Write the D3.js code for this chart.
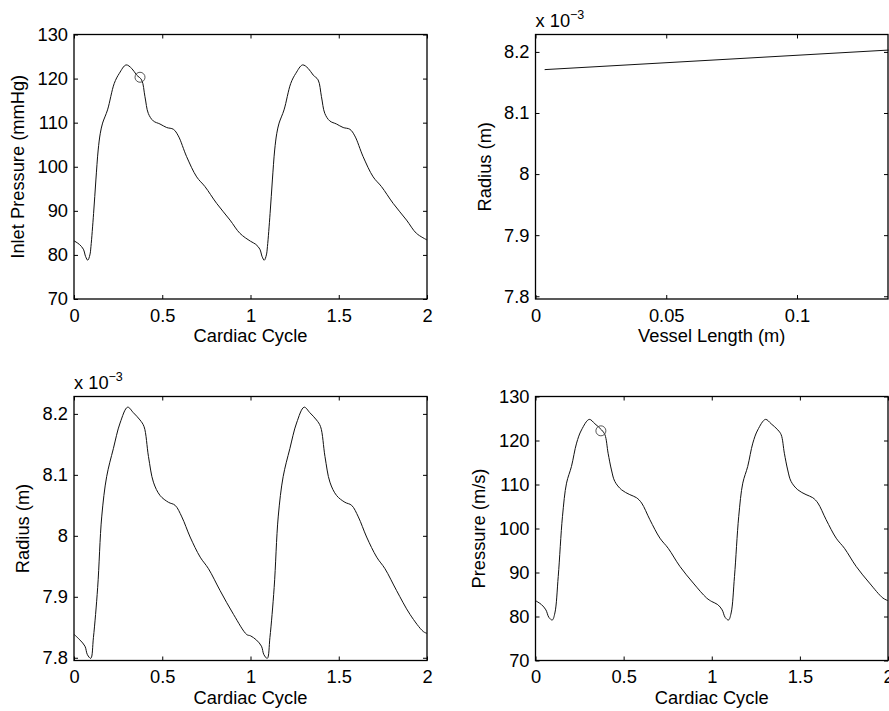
<!DOCTYPE html>
<html>
<head>
<meta charset="utf-8">
<style>
  body { margin: 0; background: #fff; }
  svg { display: block; font-family: 'Liberation Sans', Arial, Helvetica, sans-serif; }
  .box { fill: none; stroke: #000; stroke-width: 1.3; }
  .tick line { stroke: #000; stroke-width: 1; }
  .tick text { fill: #000; }
  .curve { fill: none; stroke: #111; stroke-width: 1; }
  .marker { fill: none; stroke: #444; stroke-width: 0.9; }
</style>
</head>
<body>
<script src="https://cdn.jsdelivr.net/npm/d3@7"></script>
<script>
;(function() {
  'use strict';

  /* ------- DATA ------- */

  // top left: inlet pressure over two cardiac cycles
  var inletTime = [
    0.000, 0.030, 0.053, 0.066, 0.078, 0.090, 0.096, 0.111, 0.124, 0.137, 0.149, 0.162,
    0.190, 0.228, 0.257, 0.295, 0.327, 0.355, 0.383, 0.402, 0.421, 0.449, 0.487, 0.525,
    0.563, 0.591, 0.638, 0.695, 0.742, 0.808, 0.884, 0.940,
    1.000, 1.030, 1.053, 1.066, 1.078, 1.090, 1.096, 1.111, 1.124, 1.137, 1.149, 1.162,
    1.190, 1.228, 1.257, 1.295, 1.327, 1.355, 1.383, 1.402, 1.421, 1.449, 1.487, 1.525,
    1.563, 1.591, 1.638, 1.695, 1.742, 1.808, 1.884, 1.940, 2.000
  ];
  var inletPressure = [
    83.2, 82.4, 81.3, 79.6, 78.8, 80.0, 81.9, 89.4, 97.0, 103.8, 107.6, 109.9,
    112.9, 118.9, 121.2, 123.1, 122.3, 120.8, 119.7, 115.9, 112.1, 110.4, 109.7, 108.9,
    108.5, 107.0, 102.3, 97.7, 95.5, 91.7, 87.9, 84.9,
    83.1, 82.4, 81.3, 79.6, 78.8, 80.0, 81.9, 89.4, 97.0, 103.8, 107.6, 109.9,
    112.9, 118.9, 121.2, 123.1, 122.3, 120.8, 119.7, 115.9, 112.1, 110.4, 109.7, 108.9,
    108.5, 107.0, 102.3, 97.7, 95.5, 91.7, 87.9, 84.9, 83.4
  ];
  var inletMarker = [0.374, 120.3];

  // top right: radius along the vessel
  var vesselLength = [0.0035, 0.135];
  var vesselRadius = [8.171e-3, 8.203e-3];

  // bottom left: radius over two cardiac cycles
  var radiusTime = [
    0.000, 0.034, 0.062, 0.076, 0.095, 0.110, 0.134, 0.157, 0.185, 0.223, 0.261, 0.304,
    0.336, 0.374, 0.397, 0.422, 0.450, 0.488, 0.535, 0.573, 0.611, 0.658, 0.715, 0.762,
    0.828, 0.904, 0.979,
    1.000, 1.034, 1.062, 1.076, 1.095, 1.110, 1.134, 1.157, 1.185, 1.223, 1.261, 1.304,
    1.336, 1.374, 1.397, 1.422, 1.450, 1.488, 1.535, 1.573, 1.611, 1.658, 1.715, 1.762,
    1.828, 1.904, 1.979, 2.000
  ];
  var radiusValues = [
    7.8385, 7.829, 7.819, 7.805, 7.799, 7.833, 7.915, 8.031, 8.097, 8.143, 8.185, 8.211,
    8.202, 8.190, 8.179, 8.130, 8.088, 8.066, 8.055, 8.050, 8.031, 7.998, 7.965, 7.946,
    7.910, 7.871, 7.838,
    7.836, 7.829, 7.819, 7.805, 7.799, 7.833, 7.915, 8.031, 8.097, 8.143, 8.185, 8.211,
    8.202, 8.190, 8.179, 8.130, 8.088, 8.066, 8.055, 8.050, 8.031, 7.998, 7.965, 7.946,
    7.910, 7.871, 7.843, 7.840
  ].map(function(v) { return v * 1e-3; });

  // bottom right: outlet pressure over two cardiac cycles
  var outletTime = [
    0.000, 0.034, 0.059, 0.076, 0.095, 0.110, 0.129, 0.153, 0.176, 0.204, 0.233, 0.261,
    0.305, 0.337, 0.375, 0.394, 0.412, 0.431, 0.450, 0.488, 0.535, 0.573, 0.602, 0.649,
    0.706, 0.753, 0.819, 0.895, 0.971,
    1.000, 1.034, 1.059, 1.076, 1.095, 1.110, 1.129, 1.153, 1.176, 1.204, 1.233, 1.261,
    1.305, 1.337, 1.375, 1.394, 1.412, 1.431, 1.450, 1.488, 1.535, 1.573, 1.602, 1.649,
    1.706, 1.753, 1.819, 1.895, 1.971, 2.000
  ];
  var outletPressure = [
    83.6, 82.7, 81.5, 79.8, 79.2, 80.8, 89.1, 102.7, 110.3, 114.1, 119.4, 122.4,
    124.8, 123.8, 122.4, 121.3, 117.1, 113.3, 110.7, 108.8, 107.7, 107.0, 105.8, 102.0,
    97.8, 95.5, 91.4, 87.6, 84.2,
    83.4, 82.7, 81.5, 79.8, 79.2, 80.8, 89.1, 102.7, 110.3, 114.1, 119.4, 122.4,
    124.8, 123.8, 122.4, 121.3, 117.1, 113.3, 110.7, 108.8, 107.7, 107.0, 105.8, 102.0,
    97.8, 95.5, 91.4, 87.6, 84.2, 83.6
  ];
  var outletMarker = [0.371, 122.2];

  // ticks
  var cycleTicks = [0, 0.5, 1, 1.5, 2];
  var pressureTicks = [70, 80, 90, 100, 110, 120, 130];
  var lengthTicks = [0, 0.05, 0.1];
  var radiusTicks = [7.8e-3, 7.9e-3, 8.0e-3, 8.1e-3, 8.2e-3];

  /* ------- PANEL ------- */

  var Panel = function(svg, options) {
    this.svg = svg;
    this.options = Object.assign({}, Panel.DEFAULTS, options);
    this.init();
  };

  Panel.DEFAULTS = {
    fontSize: 18.3,
    tick: 4,
    marker: null,
    exponent: null,
    xFormat: function(d) { return String(d); },
    yFormat: function(d) { return String(d); }
  };

  Panel.prototype.init = function() {
    var self = this, o = self.options;

    self.g = self.svg.append('g')
      .attr('transform', 'translate(' + o.left + ',' + o.top + ')');

    self.x = d3.scaleLinear().domain(o.xDomain).range([0, o.width]);
    self.y = d3.scaleLinear().domain(o.yDomain).range([o.height, 0]);

    self.axes();
    self.render();
  };

  Panel.prototype.axes = function() {
    var self = this, o = self.options, g = self.g;

    function clean(sel) {
      sel.attr('font-size', o.fontSize).attr('font-family', null);
      sel.select('.domain').remove();
    }

    g.append('g')
      .attr('transform', 'translate(0,' + o.height + ')')
      .call(d3.axisBottom(self.x).tickValues(o.xTicks).tickFormat(o.xFormat)
        .tickSizeInner(-o.tick).tickSizeOuter(0).tickPadding(10))
      .call(clean);

    g.append('g')
      .call(d3.axisTop(self.x).tickValues(o.xTicks).tickFormat('')
        .tickSizeInner(-o.tick).tickSizeOuter(0))
      .call(clean);

    var yg = g.append('g')
      .attr('class', 'yticks')
      .call(d3.axisLeft(self.y).tickValues(o.yTicks).tickFormat(o.yFormat)
        .tickSizeInner(-o.tick).tickSizeOuter(0).tickPadding(6))
      .call(clean);

    g.append('g')
      .attr('transform', 'translate(' + o.width + ',0)')
      .call(d3.axisRight(self.y).tickValues(o.yTicks).tickFormat('')
        .tickSizeInner(-o.tick).tickSizeOuter(0))
      .call(clean);

    g.append('rect')
      .attr('class', 'box')
      .attr('width', o.width)
      .attr('height', o.height);

    g.append('text')
      .attr('x', o.width / 2)
      .attr('y', o.height + 43)
      .attr('text-anchor', 'middle')
      .attr('font-size', o.fontSize)
      .text(o.xLabel);

    // y label sits left of the widest tick label
    var left = 0;
    yg.selectAll('text').each(function() {
      var b = this.getBBox();
      left = Math.min(left, b.x);
    });

    g.append('text')
      .attr('transform', 'translate(' + (left - 13.5) + ',' + (o.height / 2) + ') rotate(-90)')
      .attr('text-anchor', 'middle')
      .attr('font-size', o.fontSize)
      .text(o.yLabel);

    if (o.exponent) {
      var ex = g.append('text')
        .attr('x', 0)
        .attr('y', -8)
        .attr('font-size', o.fontSize)
        .text('x 10');
      ex.append('tspan')
        .attr('dy', -8)
        .attr('font-size', 12.5)
        .text(o.exponent);
    }
  };

  Panel.prototype.render = function() {
    var self = this, o = self.options;

    var points = o.xs.map(function(d, i) { return [d, o.ys[i]]; });

    var line = d3.line()
      .x(function(d) { return self.x(d[0]); })
      .y(function(d) { return self.y(d[1]); })
      .curve(d3.curveCatmullRom.alpha(0.5));

    self.g.append('path')
      .attr('class', 'curve')
      .attr('d', line(points));

    if (o.marker) {
      self.g.append('circle')
        .attr('class', 'marker')
        .attr('cx', self.x(o.marker[0]))
        .attr('cy', self.y(o.marker[1]))
        .attr('r', 5);
    }
  };

  /* ------- FIGURE ------- */

  var svg = d3.select('body').append('svg')
    .attr('width', 889)
    .attr('height', 711);

  var radiusFormat = function(d) { return String(Math.round(d * 1e4) / 10); };

  new Panel(svg, {
    left: 74, top: 34.5, width: 353, height: 264.5,
    xDomain: [0, 2], yDomain: [70, 130],
    xTicks: cycleTicks, yTicks: pressureTicks,
    xs: inletTime, ys: inletPressure, marker: inletMarker,
    xLabel: 'Cardiac Cycle', yLabel: 'Inlet Pressure (mmHg)'
  });

  new Panel(svg, {
    left: 535.5, top: 34.5, width: 352.5, height: 264.5,
    xDomain: [0, 0.1348], yDomain: [7.7955e-3, 8.2285e-3],
    xTicks: lengthTicks, yTicks: radiusTicks, yFormat: radiusFormat,
    xs: vesselLength, ys: vesselRadius, exponent: '\u22123',
    xLabel: 'Vessel Length (m)', yLabel: 'Radius (m)'
  });

  new Panel(svg, {
    left: 74, top: 396.5, width: 353, height: 264,
    xDomain: [0, 2], yDomain: [7.7955e-3, 8.2285e-3],
    xTicks: cycleTicks, yTicks: radiusTicks, yFormat: radiusFormat,
    xs: radiusTime, ys: radiusValues, exponent: '\u22123',
    xLabel: 'Cardiac Cycle', yLabel: 'Radius (m)'
  });

  new Panel(svg, {
    left: 535.5, top: 396.5, width: 352.5, height: 264,
    xDomain: [0, 2], yDomain: [70, 130],
    xTicks: cycleTicks, yTicks: pressureTicks,
    xs: outletTime, ys: outletPressure, marker: outletMarker,
    xLabel: 'Cardiac Cycle', yLabel: 'Pressure (m/s)'
  });
})();
</script>
</body>
</html>
